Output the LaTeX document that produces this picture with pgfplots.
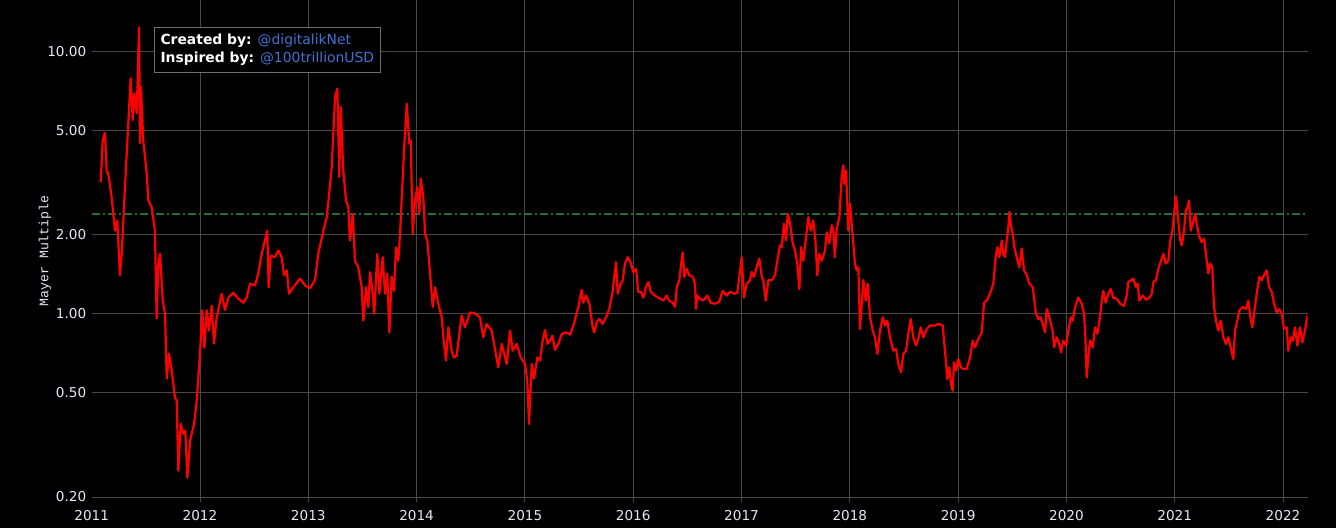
\documentclass[border=0pt]{standalone}
\usepackage{fontspec}
\setmainfont{DejaVu Sans}
\setmonofont{Liberation Mono}
\usepackage{pgfplots}
\pgfplotsset{compat=1.18}
\definecolor{gridc}{RGB}{72,72,72}
\definecolor{tickc}{RGB}{228,234,242}
\definecolor{mred}{RGB}{255,0,0}
\definecolor{mgreen}{RGB}{34,110,60}
\definecolor{handle}{RGB}{66,114,214}
\definecolor{boxc}{RGB}{110,110,110}
\begin{document}
\begin{tikzpicture}
\useasboundingbox (-91.7bp,-31bp) rectangle (1244.3bp,497bp);
\fill[black] (-91.7bp,-31bp) rectangle (1244.3bp,497bp);
\begin{axis}[
  at={(0,0)}, anchor=south west,
  scale only axis, width=1216bp, height=497bp,
  ymode=log, xmin=2011, xmax=2022.228, ymin=0.2, ymax=15.66,
  axis line style={draw=none},
  grid=major, major grid style={draw=gridc, line width=1bp},
  xtick={2012,2013,2014,2015,2016,2017,2018,2019,2020,2021,2022},
  xticklabels={2012,2013,2014,2015,2016,2017,2018,2019,2020,2021,2022},
  extra x ticks={2011}, extra x tick labels={2011},
  extra x tick style={grid=none, xtick style={draw=none}},
  ytick={0.2,0.5,1,2,5,10},
  yticklabels={0.20,0.50,1.00,2.00,5.00,10.00},
  tick align=outside, major tick length=5bp,
  ytick style={draw=none}, xtick style={draw=gridc, line width=1bp},
  ticklabel style={font=\fontsize{13.6bp}{15bp}\selectfont, text=tickc},
  xticklabel style={yshift=-5bp},
  yticklabel style={xshift=3bp},
  ylabel={Mayer Multiple},
  ylabel style={font=\ttfamily\fontsize{13.2bp}{15bp}\selectfont, text=tickc, at={(axis description cs:-0.0384,0.495)}, anchor=center},
]
\addplot[mgreen, line width=1.6bp, dash pattern=on 8bp off 3bp on 2bp off 3bp] coordinates {(2011,2.4) (2022.228,2.4)};
\addplot[mred, line width=2.2bp, line join=round] coordinates {
(2011.083,3.17) (2011.102,4.57) (2011.123,4.88) (2011.139,3.46) (2011.153,3.42) (2011.185,2.75) (2011.215,2.07) (2011.236,2.26) (2011.261,1.40) (2011.277,1.69)
(2011.307,3.03) (2011.338,5.31) (2011.360,7.88) (2011.379,5.46) (2011.393,6.91) (2011.416,5.80) (2011.437,12.3) (2011.446,4.46) (2011.455,7.29) (2011.476,4.57)
(2011.508,3.42) (2011.523,2.70) (2011.554,2.54) (2011.584,2.07) (2011.600,0.957) (2011.615,1.55) (2011.631,1.69) (2011.656,1.12) (2011.677,1.0) (2011.693,0.565)
(2011.714,0.703) (2011.739,0.606) (2011.769,0.478) (2011.785,0.466) (2011.800,0.252) (2011.822,0.38) (2011.846,0.348) (2011.864,0.358) (2011.883,0.237) (2011.908,0.327)
(2011.945,0.38) (2011.970,0.466) (2012.000,0.703) (2012.021,1.03) (2012.040,0.742) (2012.062,1.03) (2012.083,0.861) (2012.108,1.07) (2012.129,0.768) (2012.154,0.965)
(2012.200,1.19) (2012.231,1.03) (2012.261,1.15) (2012.307,1.20) (2012.354,1.14) (2012.400,1.10) (2012.431,1.15) (2012.462,1.30) (2012.508,1.28) (2012.538,1.42)
(2012.570,1.69) (2012.600,1.90) (2012.621,2.07) (2012.634,1.26) (2012.653,1.66) (2012.693,1.64) (2012.723,1.74) (2012.754,1.64) (2012.776,1.40) (2012.801,1.46)
(2012.822,1.19) (2012.861,1.26) (2012.923,1.36) (2012.970,1.28) (2013.016,1.25) (2013.062,1.34) (2013.092,1.69) (2013.139,2.07) (2013.170,2.32) (2013.194,2.90)
(2013.216,3.61) (2013.247,6.70) (2013.268,7.2) (2013.286,3.31) (2013.299,6.13) (2013.323,3.51) (2013.348,2.70) (2013.369,2.55) (2013.385,1.90) (2013.410,2.40)
(2013.431,1.59) (2013.462,1.50) (2013.493,1.26) (2013.508,0.94) (2013.533,1.26) (2013.554,1.06) (2013.570,1.44) (2013.595,1.19) (2013.609,1.0) (2013.637,1.69)
(2013.656,1.19) (2013.687,1.64) (2013.708,1.19) (2013.729,1.42) (2013.748,0.848) (2013.770,1.38) (2013.791,1.22) (2013.810,1.79) (2013.831,1.59) (2013.847,2.01)
(2013.862,2.70) (2013.884,4.19) (2013.909,6.3) (2013.933,4.44) (2013.946,4.57) (2013.964,2.01) (2013.985,2.70) (2014.006,3.03) (2014.025,2.40) (2014.038,3.27)
(2014.062,2.78) (2014.078,2.01) (2014.099,1.90) (2014.124,1.42) (2014.149,1.06) (2014.170,1.26) (2014.200,1.09) (2014.232,0.968) (2014.247,0.812) (2014.271,0.662)
(2014.293,0.886) (2014.324,0.722) (2014.345,0.681) (2014.370,0.691) (2014.416,0.983) (2014.447,0.886) (2014.493,1.01) (2014.539,1.0) (2014.585,0.968) (2014.616,0.812)
(2014.647,0.913) (2014.693,0.861) (2014.754,0.624) (2014.786,0.766) (2014.832,0.643) (2014.863,0.861) (2014.887,0.722) (2014.924,0.766) (2014.961,0.681) (2015.001,0.643)
(2015.022,0.555) (2015.038,0.379) (2015.063,0.643) (2015.084,0.565) (2015.115,0.681) (2015.139,0.662) (2015.164,0.789) (2015.186,0.866) (2015.207,0.766) (2015.232,0.789)
(2015.253,0.824) (2015.278,0.727) (2015.308,0.766) (2015.340,0.836) (2015.380,0.848) (2015.417,0.831) (2015.453,0.913) (2015.493,1.06) (2015.524,1.23) (2015.539,1.10)
(2015.564,1.17) (2015.595,1.09) (2015.626,0.886) (2015.641,0.848) (2015.663,0.927) (2015.687,0.954) (2015.718,0.913) (2015.749,0.968) (2015.779,1.04) (2015.811,1.22)
(2015.841,1.57) (2015.857,1.19) (2015.878,1.28) (2015.903,1.34) (2015.924,1.55) (2015.949,1.64) (2015.970,1.59) (2016.001,1.44) (2016.026,1.48) (2016.047,1.21)
(2016.072,1.21) (2016.093,1.15) (2016.118,1.26) (2016.140,1.32) (2016.162,1.21) (2016.201,1.17) (2016.247,1.14) (2016.278,1.12) (2016.309,1.17) (2016.333,1.12)
(2016.365,1.10) (2016.386,1.06) (2016.402,1.26) (2016.426,1.34) (2016.439,1.50) (2016.457,1.71) (2016.472,1.38) (2016.494,1.48) (2016.518,1.40) (2016.549,1.38)
(2016.571,1.30) (2016.580,1.04) (2016.592,1.17) (2016.617,1.14) (2016.647,1.12) (2016.684,1.17) (2016.716,1.10) (2016.755,1.09) (2016.795,1.11) (2016.826,1.22)
(2016.863,1.17) (2016.894,1.21) (2016.931,1.19) (2016.961,1.20) (2016.980,1.38) (2017.002,1.64) (2017.023,1.15) (2017.048,1.30) (2017.079,1.34) (2017.094,1.44)
(2017.115,1.38) (2017.140,1.50) (2017.164,1.62) (2017.187,1.38) (2017.201,1.34) (2017.224,1.12) (2017.248,1.34) (2017.279,1.34) (2017.309,1.40) (2017.331,1.59)
(2017.356,1.82) (2017.371,1.79) (2017.392,2.20) (2017.411,1.90) (2017.427,2.40) (2017.448,2.2) (2017.473,1.85) (2017.494,1.74) (2017.515,1.55) (2017.534,1.24)
(2017.550,1.79) (2017.571,1.59) (2017.596,1.96) (2017.617,2.33) (2017.639,2.07) (2017.663,2.26) (2017.682,1.90) (2017.700,1.40) (2017.718,1.69) (2017.741,1.59)
(2017.771,1.74) (2017.787,2.04) (2017.811,1.85) (2017.833,2.17) (2017.848,2.07) (2017.861,1.64) (2017.879,2.10) (2017.903,2.33) (2017.925,3.31) (2017.940,3.67)
(2017.949,3.12) (2017.965,3.51) (2017.986,2.07) (2018.002,2.62) (2018.027,1.96) (2018.048,1.55) (2018.064,1.46) (2018.079,1.50) (2018.094,0.874) (2018.110,1.09)
(2018.125,1.34) (2018.147,1.12) (2018.165,1.30) (2018.187,0.968) (2018.212,0.861) (2018.233,0.812) (2018.254,0.701) (2018.279,0.861) (2018.304,0.968) (2018.325,0.900)
(2018.346,0.940) (2018.371,0.812) (2018.402,0.722) (2018.427,0.733) (2018.448,0.643) (2018.473,0.597) (2018.494,0.701) (2018.519,0.722) (2018.540,0.836) (2018.562,0.954)
(2018.586,0.812) (2018.611,0.755) (2018.632,0.800) (2018.655,0.886) (2018.679,0.812) (2018.710,0.874) (2018.741,0.900) (2018.787,0.900) (2018.817,0.913) (2018.858,0.900)
(2018.870,0.789) (2018.889,0.643) (2018.900,0.563) (2018.919,0.624) (2018.934,0.539) (2018.950,0.508) (2018.962,0.652) (2018.981,0.606) (2019.002,0.671) (2019.024,0.624)
(2019.048,0.615) (2019.079,0.615) (2019.110,0.681) (2019.135,0.789) (2019.156,0.743) (2019.187,0.800) (2019.218,0.848) (2019.239,1.10) (2019.264,1.12) (2019.295,1.19)
(2019.325,1.30) (2019.347,1.64) (2019.362,1.79) (2019.380,1.64) (2019.403,1.90) (2019.417,1.69) (2019.433,1.64) (2019.449,1.90) (2019.464,2.14) (2019.473,2.44)
(2019.488,2.17) (2019.504,2.01) (2019.519,1.79) (2019.541,1.64) (2019.565,1.50) (2019.587,1.77) (2019.609,1.46) (2019.634,1.40) (2019.657,1.30) (2019.689,1.26)
(2019.719,1.0) (2019.740,0.954) (2019.763,0.968) (2019.781,0.913) (2019.803,0.848) (2019.818,1.04) (2019.842,0.968) (2019.873,0.86) (2019.887,0.743) (2019.910,0.812)
(2019.934,0.766) (2019.950,0.712) (2019.971,0.789) (2019.996,0.755) (2020.018,0.861) (2020.040,0.968) (2020.058,0.940) (2020.080,1.06) (2020.110,1.15) (2020.141,1.09)
(2020.163,1.0) (2020.175,0.812) (2020.187,0.571) (2020.202,0.681) (2020.218,0.789) (2020.243,0.743) (2020.264,0.886) (2020.285,0.836) (2020.310,0.968) (2020.326,1.12)
(2020.341,1.22) (2020.363,1.10) (2020.387,1.19) (2020.409,1.24) (2020.433,1.15) (2020.464,1.14) (2020.495,1.09) (2020.532,1.07) (2020.557,1.17) (2020.572,1.32)
(2020.597,1.34) (2020.618,1.36) (2020.643,1.26) (2020.659,1.30) (2020.673,1.12) (2020.705,1.17) (2020.735,1.13) (2020.766,1.15) (2020.788,1.19) (2020.803,1.32)
(2020.827,1.34) (2020.849,1.48) (2020.874,1.59) (2020.895,1.69) (2020.917,1.55) (2020.941,1.59) (2020.957,1.87) (2020.978,2.07) (2020.994,2.40) (2021.012,2.80)
(2021.028,2.40) (2021.049,1.93) (2021.065,1.82) (2021.086,2.07) (2021.102,2.47) (2021.120,2.55) (2021.132,2.70) (2021.148,2.07) (2021.166,2.20) (2021.188,2.40)
(2021.203,2.20) (2021.224,1.98) (2021.249,1.87) (2021.271,1.93) (2021.296,1.59) (2021.310,1.42) (2021.326,1.55) (2021.347,1.50) (2021.363,1.06) (2021.381,0.940)
(2021.403,0.861) (2021.425,0.940) (2021.449,0.812) (2021.474,0.766) (2021.495,0.812) (2021.520,0.733) (2021.541,0.671) (2021.557,0.861) (2021.578,0.940) (2021.597,1.03)
(2021.628,1.06) (2021.659,1.04) (2021.680,1.12) (2021.696,0.983) (2021.717,0.886) (2021.733,1.0) (2021.757,1.19) (2021.781,1.38) (2021.803,1.34) (2021.825,1.40)
(2021.850,1.46) (2021.871,1.26) (2021.896,1.21) (2021.917,1.09) (2021.942,1.01) (2021.966,1.04) (2021.988,1.0) (2022.009,0.874) (2022.034,0.886) (2022.049,0.722)
(2022.071,0.812) (2022.089,0.789) (2022.111,0.886) (2022.132,0.755) (2022.157,0.886) (2022.178,0.777) (2022.203,0.861) (2022.225,0.983)
};
\end{axis}
\node[draw=boxc, line width=1bp, fill=black, anchor=north west, minimum height=45.3bp, inner xsep=6bp, inner ysep=4bp, align=left, font=\fontsize{13.9bp}{18bp}\selectfont, text=white] at (62.3bp,470.3bp) {\textbf{Created by:} \textcolor{handle}{@digitalikNet}\\\textbf{Inspired by:} \textcolor{handle}{@100trillionUSD}};
\end{tikzpicture}
\end{document}
